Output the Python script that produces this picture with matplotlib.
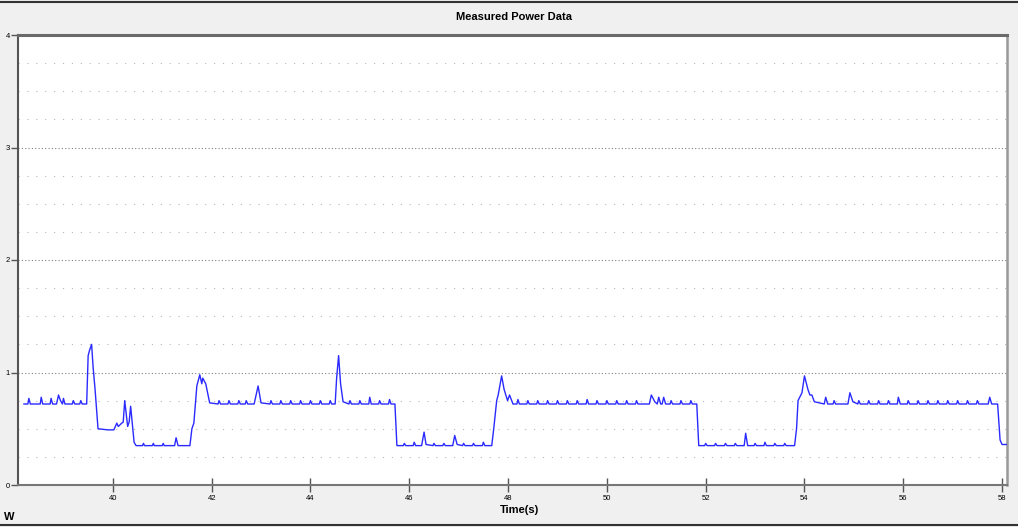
import matplotlib.pyplot as plt
from matplotlib.lines import Line2D

# vertices of the measured power trace
time_s = [
    38.20, 38.28, 38.30, 38.33, 38.53, 38.55, 38.58, 38.73, 38.75, 38.78,
    38.86, 38.90, 38.94, 38.98, 39.00, 39.03, 39.18, 39.20, 39.23, 39.33,
    39.35, 39.38, 39.47, 39.50, 39.53, 39.57, 39.60, 39.64, 39.70, 39.90,
    40.02, 40.08, 40.11, 40.18, 40.21, 40.24, 40.30, 40.33, 40.36, 40.43,
    40.47, 40.60, 40.62, 40.64, 40.80, 40.82, 40.84, 41.00, 41.02, 41.04,
    41.25, 41.28, 41.32, 41.56, 41.60, 41.64, 41.70, 41.76, 41.80, 41.82,
    41.88, 41.96, 42.13, 42.15, 42.18, 42.33, 42.35, 42.38, 42.53, 42.55,
    42.58, 42.68, 42.70, 42.73, 42.86, 42.90, 42.94, 43.00, 43.18, 43.20,
    43.23, 43.38, 43.40, 43.43, 43.58, 43.60, 43.63, 43.78, 43.80, 43.83,
    43.98, 44.00, 44.03, 44.18, 44.20, 44.23, 44.38, 44.40, 44.43, 44.50,
    44.53, 44.57, 44.61, 44.66, 44.78, 44.80, 44.83, 44.98, 45.00, 45.03,
    45.18, 45.20, 45.23, 45.38, 45.40, 45.43, 45.58, 45.60, 45.63, 45.71,
    45.75, 45.88, 45.90, 45.93, 46.08, 46.10, 46.13, 46.25, 46.30, 46.34,
    46.48, 46.50, 46.53, 46.68, 46.70, 46.73, 46.88, 46.92, 46.97, 47.08,
    47.10, 47.13, 47.28, 47.30, 47.33, 47.48, 47.50, 47.53, 47.67, 47.71,
    47.77, 47.80, 47.87, 47.92, 47.99, 48.03, 48.10, 48.18, 48.20, 48.23,
    48.38, 48.40, 48.43, 48.58, 48.60, 48.63, 48.78, 48.80, 48.83, 48.98,
    49.00, 49.03, 49.18, 49.20, 49.23, 49.38, 49.40, 49.43, 49.58, 49.60,
    49.63, 49.78, 49.80, 49.83, 49.98, 50.00, 50.03, 50.18, 50.20, 50.23,
    50.38, 50.40, 50.43, 50.58, 50.60, 50.63, 50.86, 50.90, 50.97, 51.02,
    51.05, 51.09, 51.12, 51.15, 51.19, 51.28, 51.30, 51.33, 51.48, 51.50,
    51.53, 51.68, 51.70, 51.73, 51.82, 51.86, 51.98, 52.00, 52.03, 52.18,
    52.20, 52.23, 52.38, 52.40, 52.43, 52.58, 52.60, 52.63, 52.78, 52.81,
    52.85, 52.98, 53.00, 53.03, 53.18, 53.20, 53.23, 53.38, 53.40, 53.43,
    53.58, 53.60, 53.63, 53.80, 53.84, 53.87, 53.95, 54.00, 54.07, 54.11,
    54.15, 54.20, 54.40, 54.43, 54.47, 54.58, 54.60, 54.63, 54.88, 54.92,
    54.98, 55.08, 55.10, 55.13, 55.28, 55.30, 55.33, 55.48, 55.50, 55.53,
    55.68, 55.70, 55.73, 55.88, 55.90, 55.94, 56.08, 56.10, 56.13, 56.28,
    56.30, 56.33, 56.48, 56.50, 56.53, 56.68, 56.70, 56.73, 56.88, 56.90,
    56.93, 57.08, 57.10, 57.13, 57.28, 57.30, 57.33, 57.48, 57.50, 57.53,
    57.72, 57.75, 57.79, 57.91, 57.96, 58.00, 58.10,
]
power_w = [
    0.72, 0.72, 0.77, 0.72, 0.72, 0.78, 0.72, 0.72, 0.77, 0.72,
    0.72, 0.80, 0.75, 0.72, 0.77, 0.72, 0.72, 0.75, 0.72, 0.72,
    0.75, 0.72, 0.72, 1.15, 1.20, 1.25, 1.05, 0.85, 0.50, 0.49,
    0.49, 0.55, 0.52, 0.55, 0.56, 0.75, 0.52, 0.56, 0.70, 0.38,
    0.35, 0.35, 0.37, 0.35, 0.35, 0.37, 0.35, 0.35, 0.37, 0.35,
    0.35, 0.42, 0.35, 0.35, 0.50, 0.55, 0.88, 0.98, 0.90, 0.95,
    0.90, 0.73, 0.72, 0.75, 0.72, 0.72, 0.75, 0.72, 0.72, 0.75,
    0.72, 0.72, 0.75, 0.72, 0.72, 0.80, 0.88, 0.73, 0.72, 0.75,
    0.72, 0.72, 0.75, 0.72, 0.72, 0.75, 0.72, 0.72, 0.75, 0.72,
    0.72, 0.75, 0.72, 0.72, 0.75, 0.72, 0.72, 0.75, 0.72, 0.72,
    0.95, 1.15, 0.90, 0.74, 0.72, 0.75, 0.72, 0.72, 0.75, 0.72,
    0.72, 0.78, 0.72, 0.72, 0.75, 0.72, 0.72, 0.76, 0.72, 0.72,
    0.35, 0.35, 0.37, 0.35, 0.35, 0.38, 0.35, 0.35, 0.47, 0.36,
    0.35, 0.37, 0.35, 0.35, 0.37, 0.35, 0.35, 0.44, 0.36, 0.35,
    0.37, 0.35, 0.35, 0.37, 0.35, 0.35, 0.38, 0.35, 0.35, 0.50,
    0.75, 0.80, 0.97, 0.85, 0.75, 0.80, 0.72, 0.72, 0.76, 0.72,
    0.72, 0.75, 0.72, 0.72, 0.75, 0.72, 0.72, 0.75, 0.72, 0.72,
    0.75, 0.72, 0.72, 0.75, 0.72, 0.72, 0.75, 0.72, 0.72, 0.76,
    0.72, 0.72, 0.75, 0.72, 0.72, 0.75, 0.72, 0.72, 0.75, 0.72,
    0.72, 0.75, 0.72, 0.72, 0.75, 0.72, 0.72, 0.80, 0.74, 0.72,
    0.78, 0.72, 0.72, 0.78, 0.72, 0.72, 0.75, 0.72, 0.72, 0.75,
    0.72, 0.72, 0.75, 0.72, 0.72, 0.35, 0.35, 0.37, 0.35, 0.35,
    0.37, 0.35, 0.35, 0.37, 0.35, 0.35, 0.37, 0.35, 0.35, 0.46,
    0.35, 0.35, 0.37, 0.35, 0.35, 0.38, 0.35, 0.35, 0.37, 0.35,
    0.35, 0.37, 0.35, 0.35, 0.50, 0.75, 0.82, 0.97, 0.85, 0.80,
    0.80, 0.74, 0.72, 0.78, 0.72, 0.72, 0.75, 0.72, 0.72, 0.82,
    0.74, 0.72, 0.75, 0.72, 0.72, 0.75, 0.72, 0.72, 0.75, 0.72,
    0.72, 0.75, 0.72, 0.72, 0.78, 0.72, 0.72, 0.75, 0.72, 0.72,
    0.75, 0.72, 0.72, 0.75, 0.72, 0.72, 0.75, 0.72, 0.72, 0.75,
    0.72, 0.72, 0.75, 0.72, 0.72, 0.75, 0.72, 0.72, 0.75, 0.72,
    0.72, 0.78, 0.72, 0.72, 0.40, 0.36, 0.36,
]

x_ticks = [40, 42, 44, 46, 48, 50, 52, 54, 56, 58]
y_ticks = [0, 1, 2, 3, 4]
y_minor = [0.25, 0.5, 0.75, 1.25, 1.5, 1.75, 2.25, 2.5, 2.75, 3.25, 3.5, 3.75]

plt.rcParams["font.family"] = ["Liberation Sans", "DejaVu Sans"]

fig = plt.figure(figsize=(10.18, 5.27), dpi=100, facecolor="#f0f0f0")
ax = fig.add_axes([18 / 1018, 42 / 527, 989 / 1018, 450 / 527])
ax.set_facecolor("white")

for y in y_minor:
    ax.axhline(y, color="#b8b8b8", lw=0.8, ls=(0, (1, 7)), zorder=1)
for y in y_ticks[1:-1]:
    ax.axhline(y, color="#808080", lw=0.8, ls=(0, (1, 2)), zorder=1)

ax.plot(time_s, power_w, color="#2a2aff", lw=1.0, zorder=3)

ax.set_xlim(38.08, 58.1)
ax.set_ylim(0, 4)
ax.set_xticks(x_ticks)
ax.set_yticks(y_ticks)
ax.tick_params(axis="x", direction="inout", length=10, width=1, color="#555555",
               labelsize=5.5, pad=2)
ax.tick_params(axis="y", direction="out", length=5, width=1, color="#555555",
               labelsize=5.5, pad=1)

ax.spines["top"].set_color("#6a6a6a")
ax.spines["top"].set_linewidth(2.2)
ax.spines["left"].set_color("#555555")
ax.spines["left"].set_linewidth(1.5)
ax.spines["right"].set_color("#999999")
ax.spines["right"].set_linewidth(1.8)
ax.spines["bottom"].set_color("#777777")
ax.spines["bottom"].set_linewidth(1.5)

fig.text(0.505, 1 - 17 / 527, "Measured Power Data", ha="center", va="center",
         fontsize=8, fontweight="bold")
fig.text(0.51, 1 - 510 / 527, "Time(s)", ha="center", va="center",
         fontsize=8, fontweight="bold")
fig.text(0.004, 1 - 517 / 527, "W", ha="left", va="center",
         fontsize=8, fontweight="bold")

# window frame lines at the top and bottom of the picture
fig.add_artist(Line2D([0, 1], [1 - 1.5 / 527, 1 - 1.5 / 527], color="#333333", lw=1.5))
fig.add_artist(Line2D([0, 1], [2 / 527, 2 / 527], color="#333333", lw=1.5))

fig.savefig("out.png", dpi=100, facecolor=fig.get_facecolor())
